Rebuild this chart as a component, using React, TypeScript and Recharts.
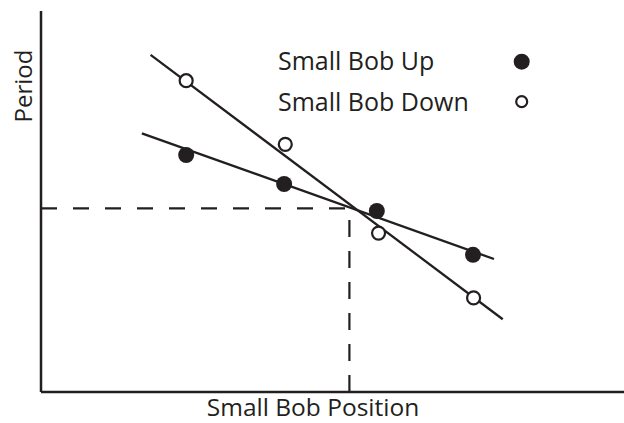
import React from "react";
import {
  ComposedChart, Line, Scatter, XAxis, YAxis, ReferenceLine, Legend,
} from "recharts";

if (typeof document !== "undefined") document.body.style.margin = "0";

const INK = "#231f20";
const FONT = "'Open Sans', sans-serif";

// measured points (arbitrary units, 0..10 on both axes)
const upPosition   = [2.49, 4.17, 5.76, 7.41];
const upPeriod     = [6.22, 5.46, 4.75, 3.60];
const downPosition = [2.49, 4.19, 5.79, 7.42];
const downPeriod   = [8.17, 6.50, 4.17, 2.47];

// fitted lines, two ends each
const upFitX   = [1.73, 7.77];
const upFitY   = [6.79, 3.49];
const downFitX = [1.88, 7.92];
const downFitY = [8.85, 1.91];

// crossover read-off
const crossX = 5.29;
const crossY = 4.82;

const seriesNames = ["Small Bob Up", "Small Bob Down"];

const zip = (xs: number[], ys: number[]) => xs.map((x, i) => ({ x, y: ys[i] }));

const upPoints   = zip(upPosition, upPeriod);
const downPoints = zip(downPosition, downPeriod);
const upFit      = zip(upFitX, upFitY);
const downFit    = zip(downFitX, downFitY);

const FilledDot = (p: any) => <circle cx={p.cx} cy={p.cy} r={8} fill={INK} />;
const HollowDot = (p: any) => (
  <circle cx={p.cx} cy={p.cy} r={6.5} fill="#fff" stroke={INK} strokeWidth={2.2} />
);

function LegendBox() {
  return (
    <svg width={270} height={80} style={{ display: "block" }}>
      <text x={8} y={30} fontSize={25} fontFamily={FONT} fill={INK}>{seriesNames[0]}</text>
      <circle cx={251.7} cy={21.7} r={8} fill={INK} />
      <text x={8} y={71} fontSize={25} fontFamily={FONT} fill={INK}>{seriesNames[1]}</text>
      <circle cx={251.7} cy={61.7} r={5.5} fill="#fff" stroke={INK} strokeWidth={2.2} />
    </svg>
  );
}

export default function App() {
  return (
    <div style={{ width: 624, height: 423, background: "#fff" }}>
      <ComposedChart width={624} height={423} margin={{ top: 11, right: 0, bottom: 0, left: 0 }}>
        <XAxis
          type="number"
          dataKey="x"
          domain={[0, 10]}
          tick={false}
          tickLine={false}
          axisLine={{ stroke: INK, strokeWidth: 2.5 }}
          height={31}
          label={{
            content: () => (
              <text x={313} y={416} textAnchor="middle" fontSize={24.5} fontFamily={FONT} fill={INK}>
                Small Bob Position
              </text>
            ),
          }}
        />
        <YAxis
          type="number"
          domain={[0, 10]}
          tick={false}
          tickLine={false}
          axisLine={{ stroke: INK, strokeWidth: 2.5 }}
          width={41}
          label={{
            content: () => (
              <text
                x={32}
                y={86}
                transform="rotate(-90 32 86)"
                textAnchor="middle"
                fontSize={24}
                fontFamily={FONT}
                fill={INK}
              >
                Period
              </text>
            ),
          }}
        />

        <Legend
          layout="vertical"
          align="center"
          verticalAlign="middle"
          wrapperStyle={{ top: 40, left: 270, width: 270, height: 80 }}
          content={() => <LegendBox />}
        />

        {/* crossover read-off */}
        <ReferenceLine
          segment={[{ x: 0, y: crossY }, { x: crossX, y: crossY }]}
          stroke={INK}
          strokeWidth={2.2}
          strokeDasharray="16 16"
        />
        <ReferenceLine
          segment={[{ x: crossX, y: 0 }, { x: crossX, y: crossY }]}
          stroke={INK}
          strokeWidth={2.2}
          strokeDasharray="17 14"
        />

        <Line data={upFit} dataKey="y" type="linear" stroke={INK} strokeWidth={2.3} dot={false} activeDot={false} legendType="none" isAnimationActive={false} />
        <Line data={downFit} dataKey="y" type="linear" stroke={INK} strokeWidth={2.3} dot={false} activeDot={false} legendType="none" isAnimationActive={false} />

        <Scatter name={seriesNames[0]} data={upPoints} dataKey="y" shape={FilledDot} isAnimationActive={false} />
        <Scatter name={seriesNames[1]} data={downPoints} dataKey="y" shape={HollowDot} isAnimationActive={false} />
      </ComposedChart>
    </div>
  );
}
